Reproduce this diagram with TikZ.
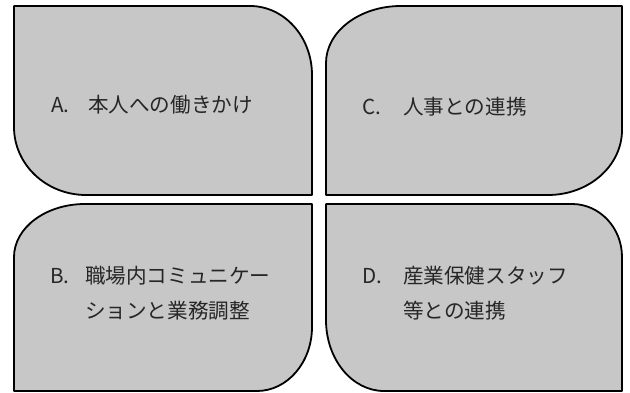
\documentclass[tikz,border=0pt]{standalone}
\usepackage{fontspec}
\setmainfont{Noto Sans CJK JP}
\begin{document}
\begin{tikzpicture}[x=1pt,y=1pt,
  panel/.style={draw=black,line width=1.8pt,fill=black!22,line join=round},
  lbl/.style={anchor=west,inner sep=0pt,font=\fontsize{20.6}{35}\selectfont,text=black!85}]
\useasboundingbox (0,0) rectangle (630,393);
% A (top-left)
\draw[panel] (14,387) -- (250,387)
  arc[start angle=90,end angle=0,x radius=62,y radius=69]
  -- (312,198) -- (86,198)
  arc[start angle=270,end angle=180,x radius=72,y radius=68] -- cycle;
% C (top-right)
\draw[panel] (326,198) -- (326,330)
  arc[start angle=180,end angle=90,x radius=75,y radius=57]
  -- (622,387) -- (622,263)
  arc[start angle=0,end angle=-90,x radius=74,y radius=65] -- cycle;
% B (bottom-left)
\draw[panel] (14,2) -- (14,136)
  arc[start angle=180,end angle=90,x radius=71,y radius=53]
  -- (312,189) -- (312,66)
  arc[start angle=0,end angle=-90,x radius=55,y radius=64] -- cycle;
% D (bottom-right)
\draw[panel] (326,189) -- (572,189)
  arc[start angle=90,end angle=0,x radius=50,y radius=53]
  -- (622,2) -- (384,2)
  arc[start angle=270,end angle=180,x radius=58,y radius=71] -- cycle;
% labels
\node[lbl] (la) at (51,288) {\makebox[37pt][l]{A.}本人への働きかけ};
\node[lbl] (lc) at (362,286) {\makebox[41pt][l]{C.}人事との連携};
\node[lbl] (lb) at (50,98.5) {\begin{tabular}{@{}l@{}l@{}}\makebox[35pt][l]{B.}&職場内コミュニケー\\&ションと業務調整\end{tabular}};
\node[lbl] (ld) at (362,98.5) {\begin{tabular}{@{}l@{}l@{}}\makebox[41pt][l]{D.}&産業保健スタッフ\\&等との連携\end{tabular}};
\end{tikzpicture}
\end{document}
